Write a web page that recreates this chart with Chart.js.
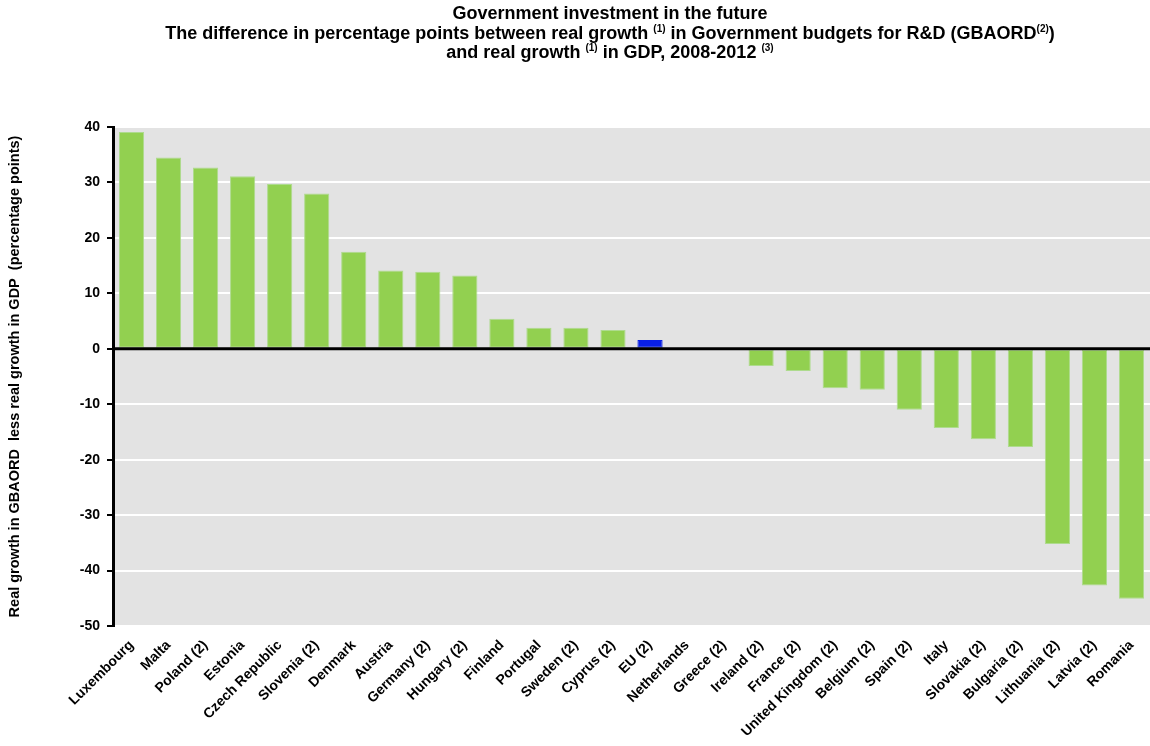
<!DOCTYPE html>
<html lang="en">
<head>
    <meta charset="UTF-8">
    <title>Government investment in the future</title>
    <script src="https://cdn.jsdelivr.net/npm/chart.js"></script>
    <style>
        html, body {
            margin: 0;
            padding: 0;
            background: #ffffff;
        }
        .wrap {
            position: relative;
            width: 1150px;
            height: 746px;
        }
        .title {
            position: absolute;
            left: 35px;
            top: 4px;
            width: 1150px;
            text-align: center;
            font-family: "Liberation Sans", Arial, sans-serif;
            font-weight: bold;
            font-size: 18px;
            line-height: 19.5px;
            color: #000;
        }
        .title sup {
            font-size: 10px;
            vertical-align: 7px;
            line-height: 0;
        }
        canvas {
            position: absolute;
            left: 0;
            top: 0;
        }
    </style>
</head>
<body>
<div class="wrap">
    <canvas id="chart" width="1150" height="746"></canvas>
    <div class="title">
        Government investment in the future<br>
        The difference in percentage points between real growth <sup>(1)</sup> in Government budgets for R&amp;D (GBAORD<sup>(2)</sup>)<br>
        and real growth <sup>(1)</sup> in GDP, 2008-2012 <sup>(3)</sup>
    </div>
</div>

<script>
    // Данные: страны и разница в процентных пунктах
    const countries = [
        'Luxembourg', 'Malta', 'Poland (2)', 'Estonia', 'Czech Republic', 'Slovenia (2)',
        'Denmark', 'Austria', 'Germany (2)', 'Hungary (2)', 'Finland', 'Portugal',
        'Sweden (2)', 'Cyprus (2)', 'EU (2)', 'Netherlands', 'Greece (2)', 'Ireland (2)',
        'France (2)', 'United Kingdom (2)', 'Belgium (2)', 'Spain (2)', 'Italy',
        'Slovakia (2)', 'Bulgaria (2)', 'Lithuania (2)', 'Latvia (2)', 'Romania'
    ];
    const difference = [
        39.1, 34.5, 32.7, 31.1, 29.7, 28.0,
        17.5, 14.1, 13.9, 13.2, 5.4, 3.8,
        3.8, 3.4, 1.6, 0, 0, -3.1,
        -4.0, -7.1, -7.4, -11.0, -14.3,
        -16.3, -17.7, -35.2, -42.7, -45.1
    ];
    const yTicks = [40, 30, 20, 10, 0, -10, -20, -30, -40, -50];
    const yTitle = 'Real growth in GBAORD  less real growth in GDP  (percentage points)';

    const font = "'Liberation Sans', Arial, sans-serif";

    // Серый фон области графика
    const plotBackground = {
        id: 'plotBackground',
        beforeDraw(chart) {
            const a = chart.chartArea;
            const ctx = chart.ctx;
            ctx.save();
            ctx.fillStyle = '#e3e3e3';
            ctx.fillRect(a.left, a.top, a.right - a.left, a.bottom - a.top);
            ctx.restore();
        }
    };

    // Жирная линия нуля поверх столбцов
    const zeroLine = {
        id: 'zeroLine',
        afterDatasetsDraw(chart) {
            const y = chart.scales.y.getPixelForValue(0);
            const a = chart.chartArea;
            const ctx = chart.ctx;
            ctx.save();
            ctx.strokeStyle = '#000';
            ctx.lineWidth = 3;
            ctx.beginPath();
            ctx.moveTo(a.left, y);
            ctx.lineTo(a.right, y);
            ctx.stroke();
            ctx.restore();
        }
    };

    new Chart(document.getElementById('chart'), {
        type: 'bar',
        data: {
            labels: countries,
            datasets: [{
                data: difference,
                backgroundColor: c => countries[c.dataIndex] === 'EU (2)' ? '#0a20e6' : '#92d050',
                borderColor: c => countries[c.dataIndex] === 'EU (2)' ? '#0a20e6' : '#aedb8e',
                borderWidth: 1,
                borderSkipped: false,
                barPercentage: 0.68,
                categoryPercentage: 1
            }]
        },
        options: {
            responsive: false,
            animation: false,
            layout: {
                padding: { top: 127, right: 0, bottom: 0, left: 0 }
            },
            plugins: {
                legend: { display: false },
                tooltip: { enabled: false }
            },
            scales: {
                x: {
                    grid: { display: false },
                    border: { display: false },
                    ticks: {
                        color: '#000',
                        font: { family: font, size: 14, weight: 'bold' },
                        minRotation: 45,
                        maxRotation: 45,
                        autoSkip: false,
                        padding: 3
                    },
                    afterFit: s => {
                        s.height = 120;
                        s.paddingRight = 0;
                    }
                },
                y: {
                    min: -50,
                    max: 40,
                    afterBuildTicks: s => {
                        s.ticks = yTicks.map(v => ({ value: v }));
                    },
                    afterFit: s => { s.width = 113; },
                    grid: {
                        color: '#ffffff',
                        lineWidth: 2,
                        tickColor: '#000',
                        tickLength: 6
                    },
                    border: { display: true, color: '#000', width: 3 },
                    ticks: {
                        color: '#000',
                        font: { family: font, size: 14, weight: 'bold' },
                        padding: 7
                    },
                    title: {
                        display: true,
                        text: yTitle,
                        color: '#000',
                        font: { family: font, size: 14.5, weight: 'bold' },
                        padding: { top: 6, bottom: 0 }
                    }
                }
            }
        },
        plugins: [plotBackground, zeroLine]
    });
</script>
</body>
</html>
